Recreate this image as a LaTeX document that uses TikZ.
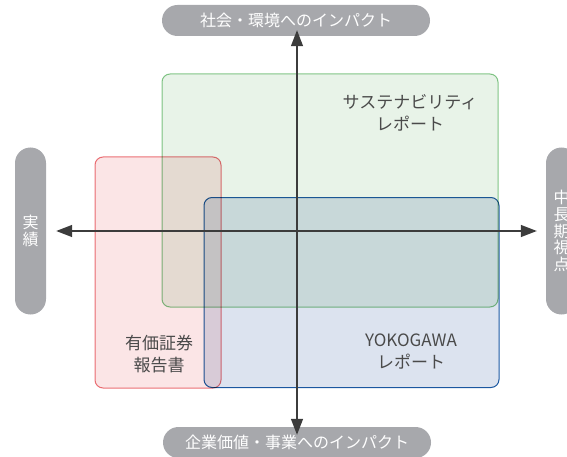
\documentclass[tikz,border=0pt]{standalone}
\usepackage{fontspec}
\setmainfont{Noto Sans CJK JP}
\usetikzlibrary{arrows.meta}
\definecolor{pillgray}{HTML}{A7A8AC}
\definecolor{gfill}{HTML}{E8F3E8}
\definecolor{gline}{HTML}{86C98B}
\definecolor{rfill}{HTML}{FBE5E6}
\definecolor{rline}{HTML}{EC7479}
\definecolor{bfill}{HTML}{DCE3EF}
\definecolor{bline}{HTML}{1F5FA8}
\definecolor{txt}{HTML}{4A4A4A}
\definecolor{axis}{HTML}{3C3C3C}
\tikzset{
  pill/.style={fill=pillgray, text=white, inner sep=0pt, rounded corners=15.5pt, font=\fontsize{16}{17}\selectfont, align=center},
  area/.style={draw, line width=1pt, rounded corners=8pt, inner sep=0pt, blend mode=multiply},
  lbl/.style={text=txt, align=center, font=\fontsize{17}{22}\selectfont, inner sep=0pt},
  axisline/.style={draw=axis, line width=1.3pt, -{Triangle[length=16pt,width=12pt]}}
}
\begin{document}
\begin{tikzpicture}[x=1pt,y=-1pt]
\useasboundingbox (0,0) rectangle (567,457);
% boxes
\node[area, draw=gline, fill=gfill, minimum width=336pt, minimum height=233pt] (green) at (330,190.5) {};
\node[area, draw=rline, fill=rfill, minimum width=126pt, minimum height=231pt] (red) at (158,272.5) {};
\node[area, draw=bline, fill=bfill, minimum width=295pt, minimum height=190pt] (blue) at (351.5,292.5) {};
% labels
\node[lbl] (glbl) at (410,112.5) {サステナビリティ\\レポート};
\node[lbl] (rlbl) at (159,354) {有価証券\\報告書};
\node[lbl] (blbl) at (411,352) {YOKOGAWA\\レポート};
% pills
\node[pill, minimum width=268pt, minimum height=31pt] (top) at (296,20.5) {社会・環境へのインパクト};
\node[pill, minimum width=268pt, minimum height=31pt] (bottom) at (297,442.5) {企業価値・事業へのインパクト};
\node[pill, minimum width=31pt, minimum height=167pt, font=\fontsize{16}{17}\selectfont] (left) at (30.5,231) {実\\績};
\node[pill, minimum width=31pt, minimum height=167pt, font=\fontsize{16}{16.6}\selectfont] (right) at (561.5,231) {中\\長\\期\\視\\点};
% axes
\coordinate (c) at (297,231);
\draw[axisline, shorten >=0pt] (c) -- ([yshift=6pt]top.south -| c);
\draw[axisline] (c) -- ([yshift=-8pt]bottom.north -| c);
\draw[axisline] (c) -- ([xshift=10pt]left.east |- c);
\draw[axisline] (c) -- ([xshift=-9pt]right.west |- c);
\end{tikzpicture}
\end{document}
